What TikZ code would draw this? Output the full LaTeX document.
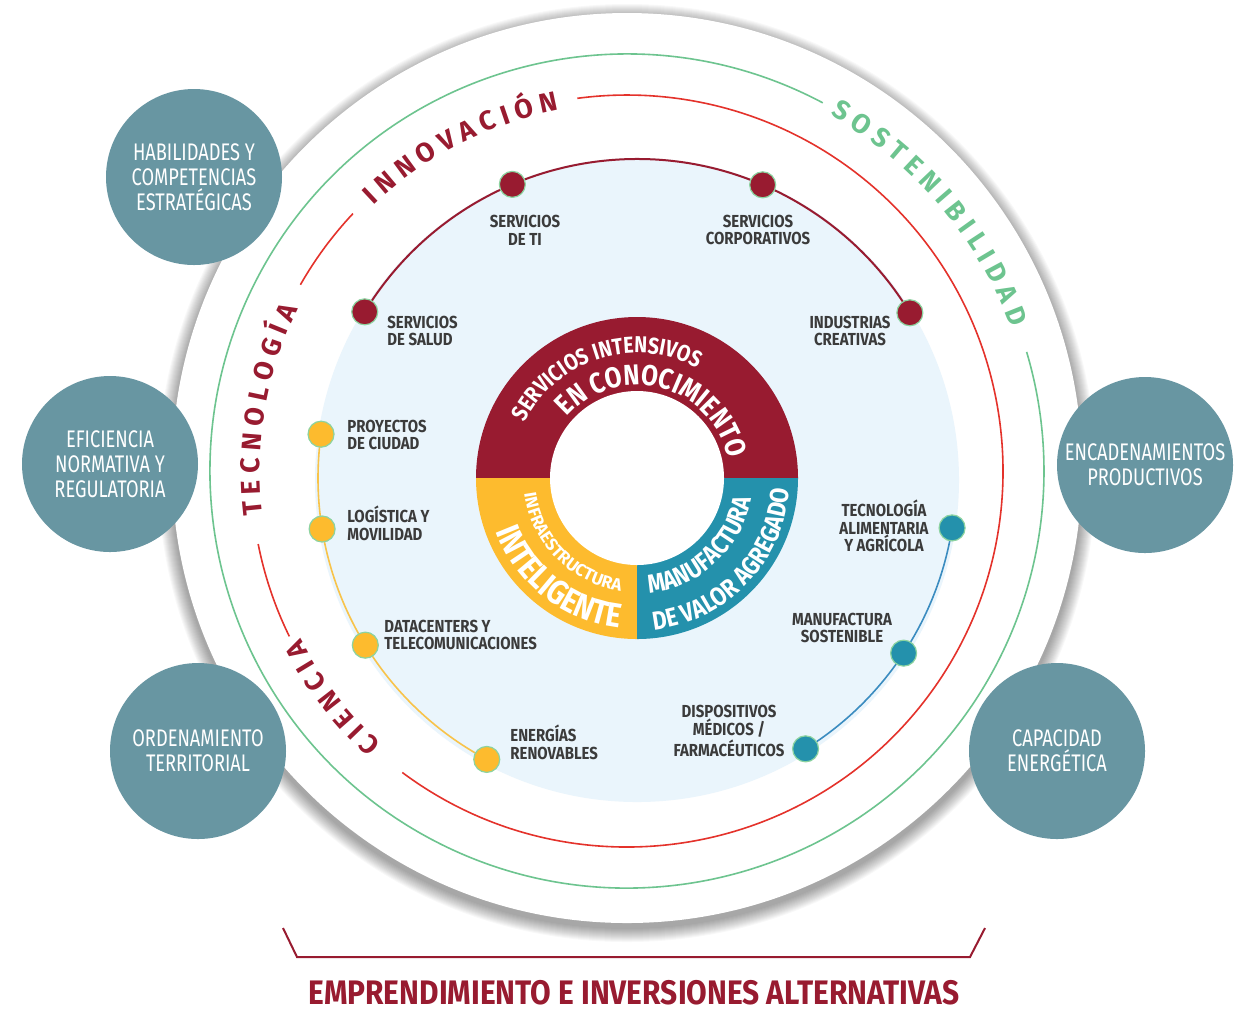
\documentclass[tikz,border=0pt]{standalone}
\usepackage{fontspec}
\setmainfont{Fira Sans}
\newfontfamily\labfont{Fira Sans}[FakeStretch=0.86]
\newfontfamily\circfont{Fira Sans}[FakeStretch=0.76]
\newfontfamily\donfont{Fira Sans}[FakeStretch=0.85]
\newfontfamily\ringfont{Fira Sans}
\newfontfamily\titfont{Fira Sans}[FakeStretch=0.88]
\usetikzlibrary{decorations.text}
\definecolor{cMaroon}{HTML}{981B30}
\definecolor{cRed}{HTML}{E4322B}
\definecolor{cGreen}{HTML}{6DC48F}
\definecolor{cYellow}{HTML}{FDBB2E}
\definecolor{cTeal}{HTML}{2491AC}
\definecolor{cCirc}{HTML}{6896A2}
\definecolor{cLight}{HTML}{EAF5FC}
\definecolor{cText}{HTML}{3B3B3B}
\definecolor{cDotEdge}{HTML}{8CD3A0}
\definecolor{cYline}{HTML}{F8C34A}
\definecolor{cBline}{HTML}{3B8CC0}
\tikzset{
  dotnode/.style={circle, inner sep=0pt, minimum size=13pt, line width=0.6pt, draw=cDotEdge},
  lab/.style={font=\labfont\bfseries\fontsize{8.7}{8.9}\selectfont, text=cText, inner sep=0pt},
  bigcirc/.style={circle, fill=cCirc, minimum size=88pt, inner sep=0pt, text=white, align=center,
    font=\circfont\fontsize{12}{12.5}\selectfont},
  ringline/.style={line width=0.8pt},
}
\begin{document}
\begin{tikzpicture}[x=0.5pt, y=0.5pt]
\useasboundingbox (0,0) rectangle (1234,-1009);
\fill[white] (0,0) rectangle (1234,-1009);
% shadow + white disc
\foreach \k in {1,...,14}{
  \pgfmathsetmacro\rr{455+\k*1.0}
  \fill[black, opacity=0.028] (627,-473) circle[radius=\rr];
}
\fill[white] (627,-468) circle[radius=455];

% outer rings
\begin{scope}[shift={(627,-471)}]
  \draw[cGreen, ringline] (62:417) arc[start angle=62, end angle=376.6, radius=417];
  \draw[cRed, ringline] (233.3:376) arc[start angle=233.3, end angle=457.6, radius=376];
  \draw[cRed, ringline] (136.8:376) arc[start angle=136.8, end angle=150.3, radius=376];
  \draw[cRed, ringline] (191.2:376) arc[start angle=191.2, end angle=206.1, radius=376];
  \path[decorate, decoration={text along path, text align=center, text color=cMaroon,
    text={|\ringfont\bfseries\fontsize{13.5}{14}\selectfont|I N N O V A C I Ó N}}]
    (197.1:367) arc[start angle=197.1, end angle=37.1, radius=367];
  \path[decorate, decoration={text along path, text align=center, text color=cMaroon,
    text={|\ringfont\bfseries\fontsize{13.5}{14}\selectfont|T E C N O L O G Í A}}]
    (250.3:367) arc[start angle=250.3, end angle=90.3, radius=367];
  \path[decorate, decoration={text along path, text align=center, text color=cMaroon,
    text={|\ringfont\bfseries\fontsize{13.5}{14}\selectfont|C I E N C I A}}]
    (297.6:367) arc[start angle=297.6, end angle=137.6, radius=367];
  \path[decorate, decoration={text along path, text align=center, text color=cGreen,
    text={|\ringfont\bfseries\fontsize{13.5}{14}\selectfont|S O S T E N I B I L I D A D}}]
    (120.4:410) arc[start angle=120.4, end angle=-39.6, radius=410];
\end{scope}

% inner area
\begin{scope}[shift={(637,-478)}]
  \fill[cLight] (0,-2) circle[radius=322];
  % dot positions
  \coordinate (pSALUD) at (148.6:319);
  \coordinate (pTI) at (113:319);
  \coordinate (pCORP) at (66.8:319);
  \coordinate (pCREAT) at (31.2:319);
  \coordinate (pPROY) at (172.1:319);
  \coordinate (pLOG) at (189.2:319);
  \coordinate (pDATA) at (211.6:319);
  \coordinate (pENER) at (241.9:319);
  \coordinate (pALIM) at (-9:319);
  \coordinate (pMANU) at (-33.3:319);
  \coordinate (pDISP) at (-58.1:319);
  \draw[cMaroon, line width=1pt] (pSALUD) arc[start angle=148.6, end angle=31.2, radius=319];
  \draw[cYline, line width=0.8pt] (pPROY) arc[start angle=172.1, end angle=241.9, radius=319];
  \draw[cBline, line width=0.8pt] (pDISP) arc[start angle=-58.1, end angle=-9, radius=319];
  \node[dotnode, fill=cMaroon] (dSALUD) at (pSALUD) {};
  \node[dotnode, fill=cMaroon] (dTI) at (pTI) {};
  \node[dotnode, fill=cMaroon] (dCORP) at (pCORP) {};
  \node[dotnode, fill=cMaroon] (dCREAT) at (pCREAT) {};
  \node[dotnode, fill=cYellow] (dPROY) at (pPROY) {};
  \node[dotnode, fill=cYellow] (dLOG) at (pLOG) {};
  \node[dotnode, fill=cYellow] (dDATA) at (pDATA) {};
  \node[dotnode, fill=cYellow] (dENER) at (pENER) {};
  \node[dotnode, fill=cTeal] (dALIM) at (pALIM) {};
  \node[dotnode, fill=cTeal] (dMANU) at (pMANU) {};
  \node[dotnode, fill=cTeal] (dDISP) at (pDISP) {};

  % donut
  \fill[cMaroon] (0,0) -- (0:161) arc[start angle=0, end angle=180, radius=161] -- cycle;
  \fill[cYellow] (0,0) -- (180:161) arc[start angle=180, end angle=270, radius=161] -- cycle;
  \fill[cTeal] (0,0) -- (270:161) arc[start angle=270, end angle=360, radius=161] -- cycle;
  \fill[white] (0,0) circle[radius=87];
  \path[decorate, decoration={text along path, text align=center, text color=white,
    text={|\donfont\bfseries\fontsize{11.5}{12}\selectfont|SERVICIOS INTENSIVOS}}]
    (187.5:125) arc[start angle=187.5, end angle=27.5, radius=125];
  \path[decorate, decoration={text along path, text align=center, text color=white,
    text={|\donfont\bfseries\fontsize{14.4}{15}\selectfont|EN CONOCIMIENTO}}]
    (165.3:93) arc[start angle=165.3, end angle=-14.7, radius=93];
  \path[decorate, decoration={text along path, text align=center, text color=white,
    text={|\ringfont\bfseries\fontsize{8.6}{9}\selectfont|INFRAESTRUCTURA}}]
    (144.9:114) arc[start angle=144.9, end angle=304.9, radius=114];
  \path[decorate, decoration={text along path, text align=center, text color=white,
    text={|\donfont\bfseries\fontsize{17}{18}\selectfont|INTELIGENTE}}]
    (152:151) arc[start angle=152, end angle=312, radius=151];
  \path[decorate, decoration={text along path, text align=center, text color=white,
    text={|\donfont\bfseries\fontsize{13}{13}\selectfont|MANUFACTURA}}]
    (232.9:116) arc[start angle=232.9, end angle=392.9, radius=116];
  \path[decorate, decoration={text along path, text align=center, text color=white,
    text={|\donfont\bfseries\fontsize{13}{13}\selectfont|DE VALOR AGREGADO}}]
    (236:153) arc[start angle=236, end angle=396, radius=153];
\end{scope}

% dot labels
\node[lab, align=center] (lTI) at (525,-230) {SERVICIOS\\DE TI};
\node[lab, align=center] (lCORP) at (758,-230) {SERVICIOS\\CORPORATIVOS};
\node[lab, align=left, anchor=west] (lSALUD) at (387,-331) {SERVICIOS\\DE SALUD};
\node[lab, align=center] (lCREAT) at (850,-331) {INDUSTRIAS\\CREATIVAS};
\node[lab, align=left, anchor=west] (lPROY) at (347,-435) {PROYECTOS\\DE CIUDAD};
\node[lab, align=left, anchor=west] (lLOG) at (347,-523) {LOGÍSTICA Y\\MOVILIDAD};
\node[lab, align=left, anchor=west] (lDATA) at (384,-635) {DATACENTERS Y\\TELECOMUNICACIONES};
\node[lab, align=left, anchor=west] (lENER) at (510,-742) {ENERGÍAS\\RENOVABLES};
\node[lab, align=center] (lALIM) at (884,-526) {TECNOLOGÍA\\ALIMENTARIA\\Y AGRÍCOLA};
\node[lab, align=center] (lMANU) at (842,-628) {MANUFACTURA\\SOSTENIBLE};
\node[lab, align=center] (lDISP) at (729,-731) {DISPOSITIVOS\\MÉDICOS /\\FARMACÉUTICOS};

% side circles
\node[bigcirc] (cHAB) at (194,-177) {HABILIDADES Y\\COMPETENCIAS\\ESTRATÉGICAS};
\node[bigcirc] (cEFI) at (110,-464) {EFICIENCIA\\NORMATIVA Y\\REGULATORIA};
\node[bigcirc] (cORD) at (198,-751) {ORDENAMIENTO\\TERRITORIAL};
\node[bigcirc] (cENC) at (1145,-465) {ENCADENAMIENTOS\\PRODUCTIVOS};
\node[bigcirc] (cCAP) at (1057,-751) {CAPACIDAD\\ENERGÉTICA};

% bottom bracket and title
\draw[cMaroon, line width=1pt] (283,-928) -- (297,-957) -- (970,-957) -- (985,-928);
\node[font=\titfont\bfseries\fontsize{17}{17}\selectfont, text=cMaroon, inner sep=0pt, anchor=base] (title) at (634,-1004) {EMPRENDIMIENTO E INVERSIONES ALTERNATIVAS};
\end{tikzpicture}
\end{document}
